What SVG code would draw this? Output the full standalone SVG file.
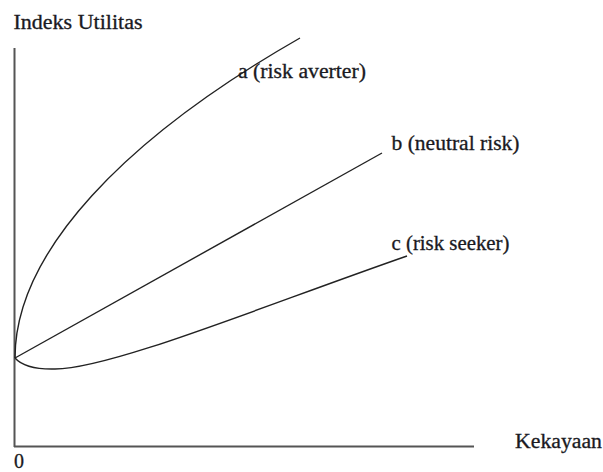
<svg xmlns="http://www.w3.org/2000/svg" width="603" height="472" viewBox="0 0 603 472">
<style>
.axis{stroke:#555;stroke-width:2;fill:none}
.curve{stroke:#222;stroke-width:1.4;fill:none}
.lbl{font-family:"Liberation Serif","Times New Roman",serif;font-size:20px;fill:#1a1a22;stroke:#1a1a22;stroke-width:0.3}
</style>
<rect width="603" height="472" fill="#fff"/>
<g id="axes">
<line class="axis" x1="14.5" y1="48" x2="14.5" y2="447"/>
<line class="axis" x1="14" y1="446.5" x2="474" y2="446.5"/>
</g>
<g id="connectors">
<path id="curve-a" class="curve" d="M15,358 C15,252 125,138 300,38"/>
<path id="line-b" class="curve" d="M15,358 L382,153"/>
<path id="curve-c" class="curve" d="M15,358 C22,366 35,369.5 55,369 C110,369 259,307.5 407,256"/>
</g>
<g id="label-y"><text class="lbl" x="13.5" y="28.5" textLength="129" lengthAdjust="spacingAndGlyphs">Indeks Utilitas</text></g>
<g id="label-a"><text class="lbl" x="238" y="77.5" textLength="128" lengthAdjust="spacingAndGlyphs">a (risk averter)</text></g>
<g id="label-b"><text class="lbl" x="391.5" y="150" textLength="128" lengthAdjust="spacingAndGlyphs">b (neutral risk)</text></g>
<g id="label-c"><text class="lbl" x="391.5" y="250" textLength="118" lengthAdjust="spacingAndGlyphs">c (risk seeker)</text></g>
<g id="label-x"><text class="lbl" x="515" y="447.5" textLength="87" lengthAdjust="spacingAndGlyphs">Kekayaan</text></g>
<g id="label-origin"><text class="lbl" x="14" y="468">0</text></g>
</svg>
